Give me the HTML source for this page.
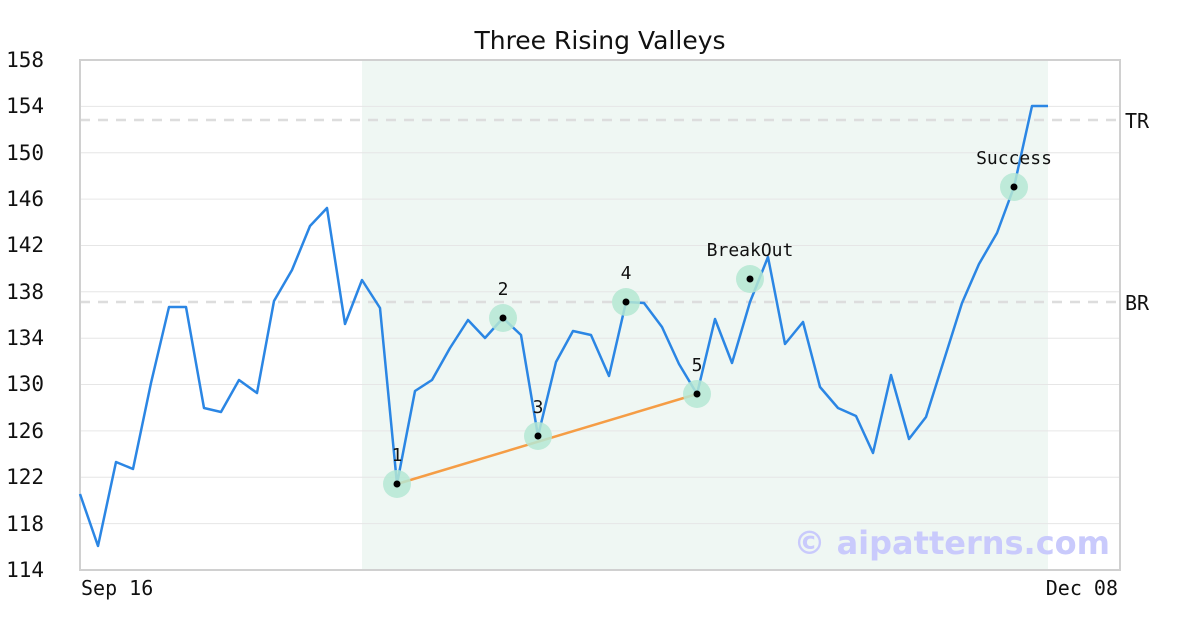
<!DOCTYPE html>
<html><head><meta charset="utf-8"><style>
body{margin:0;background:#fff;}
svg{display:block;font-family:"DejaVu Sans Mono","Liberation Mono",monospace;}
</style></head><body>
<svg width="1200" height="630" xmlns="http://www.w3.org/2000/svg">
<rect width="1200" height="630" fill="#fff"/>
<rect x="362" y="60" width="686" height="510" fill="#eff7f3"/>
<g stroke="#e6e6e6" stroke-width="1">
<line x1="80" x2="1120" y1="106.4" y2="106.4"/><line x1="80" x2="1120" y1="152.7" y2="152.7"/>
<line x1="80" x2="1120" y1="199.1" y2="199.1"/><line x1="80" x2="1120" y1="245.5" y2="245.5"/>
<line x1="80" x2="1120" y1="291.8" y2="291.8"/><line x1="80" x2="1120" y1="338.2" y2="338.2"/>
<line x1="80" x2="1120" y1="384.5" y2="384.5"/><line x1="80" x2="1120" y1="430.9" y2="430.9"/>
<line x1="80" x2="1120" y1="477.3" y2="477.3"/><line x1="80" x2="1120" y1="523.6" y2="523.6"/>
</g>
<g stroke="#dddddd" stroke-width="2.5" stroke-dasharray="10,8">
<line x1="80" x2="1120" y1="120" y2="120"/><line x1="80" x2="1120" y1="302" y2="302"/>
</g>
<rect x="80" y="60" width="1040" height="510" fill="none" stroke="#d0d0d0" stroke-width="2"/>
<text x="600" y="49" text-anchor="middle" font-family="DejaVu Sans, sans-serif" font-size="25" fill="#111">Three Rising Valleys</text>
<g font-size="21" fill="#111" text-anchor="end">
<text x="44" y="67">158</text><text x="44" y="113">154</text><text x="44" y="160">150</text>
<text x="44" y="206">146</text><text x="44" y="252">142</text><text x="44" y="299">138</text>
<text x="44" y="345">134</text><text x="44" y="391">130</text><text x="44" y="438">126</text>
<text x="44" y="484">122</text><text x="44" y="531">118</text><text x="44" y="577">114</text>
</g>
<text x="81" y="595" font-size="20" fill="#111">Sep 16</text>
<text x="1118" y="595" font-size="20" fill="#111" text-anchor="end">Dec 08</text>
<text x="1125" y="128" font-size="20" fill="#111">TR</text>
<text x="1125" y="310" font-size="20" fill="#111">BR</text>
<text x="1110" y="554" text-anchor="end" font-family="DejaVu Sans, sans-serif" font-weight="bold" font-size="32" fill="#c9cafc">© aipatterns.com</text>
<line x1="397" y1="484" x2="697" y2="394" stroke="#f59d45" stroke-width="2.5"/>
<polyline fill="none" stroke="#2b86e4" stroke-width="2.5" stroke-linejoin="round" points="80,494 98,546 116,462 133,469 151,383 169,307 186,307 204,408 221,412 239,380 257,393 274,301 292,270 310,226 327,208 345,324 362,280 380,308 397,484 415,391 432,380 450,348 468,320 485,338 503,318 521,335 538,436 556,362 573,331 591,335 609,376 626,302 644,303 662,327 679,364 697,394 715,319 732,363 750,302 768,257 785,344 803,322 820,387 838,408 856,416 873,453 891,375 909,439 926,417 944,360 962,303 979,264 997,233 1014,187 1032,106 1048,106"/>
<g fill="#b5e8d3" opacity="0.85">
<circle cx="397" cy="484" r="14"/><circle cx="503" cy="318" r="14"/><circle cx="538" cy="436" r="14"/>
<circle cx="626" cy="302" r="14"/><circle cx="697" cy="394" r="14"/><circle cx="750" cy="279" r="14"/><circle cx="1014" cy="187" r="14"/>
</g>
<g fill="#000">
<circle cx="397" cy="484" r="3.5"/><circle cx="503" cy="318" r="3.5"/><circle cx="538" cy="436" r="3.5"/>
<circle cx="626" cy="302" r="3.5"/><circle cx="697" cy="394" r="3.5"/><circle cx="750" cy="279" r="3.5"/><circle cx="1014" cy="187" r="3.5"/>
</g>
<g font-size="18" fill="#111" text-anchor="middle">
<text x="397" y="461">1</text><text x="503" y="295">2</text><text x="538" y="413">3</text>
<text x="626" y="279">4</text><text x="697" y="371">5</text><text x="750" y="256">BreakOut</text><text x="1014" y="164">Success</text>
</g>
</svg>
</body></html>
